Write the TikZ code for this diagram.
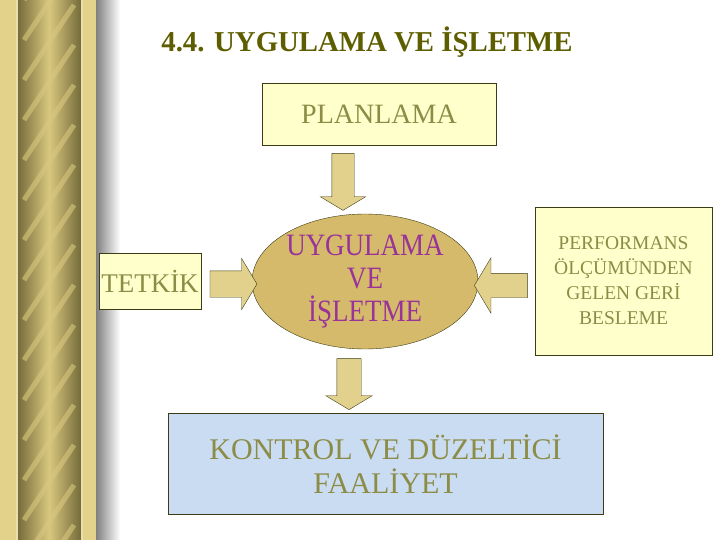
\documentclass[tikz,border=0pt]{standalone}
\usepackage{fontspec}
\usepackage{graphicx}
\setmainfont{Liberation Serif}
\usetikzlibrary{shapes.geometric}
\usetikzlibrary{shapes.arrows}
\usetikzlibrary{positioning}
\definecolor{ug-title}{HTML}{5E5E00}
\definecolor{ug-text}{HTML}{8C8C46}
\definecolor{ug-purple}{HTML}{993399}
\definecolor{ug-box}{HTML}{FFFFCC}
\definecolor{ug-line}{HTML}{3C3C14}
\definecolor{ug-oval}{HTML}{D5BA6B}
\definecolor{ug-arrow}{HTML}{E2D18C}
\definecolor{ug-blue}{HTML}{C9DCF1}
\definecolor{ug-gold}{HTML}{E2D28A}
\definecolor{ug-rod}{HTML}{756B3A}
\definecolor{ug-rodlight}{HTML}{D8C77E}
\newcommand{\uzun}[1]{\scalebox{1}[1.15]{#1}}

\begin{document}
\begin{tikzpicture}[x=1pt, y=-1pt,
    box/.style={draw=ug-line, fill=ug-box, text=ug-text, inner sep=0pt, align=center},
    blockarrow/.style={single arrow, draw=ug-line, fill=ug-arrow, inner xsep=0pt,
        single arrow tip angle=118, single arrow head indent=0pt},
    downarrow/.style={blockarrow, shape border rotate=270, inner ysep=0pt}]
        \useasboundingbox (0,0) rectangle (720,540);
        \fill[ug-gold] (0,0) rectangle (96,540);
        \shade[left color=ug-rod, right color=ug-rod, middle color=ug-rodlight] (17,0) rectangle (81,540);
        \begin{scope}
            \clip (19,0) rectangle (79,540);
            \foreach \y in {-40,0,...,560}
                \draw[ug-rodlight, line width=5pt, opacity=0.6] (24,\y+40) -- (74,\y-35);
        \end{scope}
        \draw[ug-gold!70!white, line width=1.5pt] (17,0) -- (17,540);
        \draw[ug-gold!70!white, line width=1.5pt] (82,0) -- (82,540);
        \shade[left color=black!50, right color=white] (96,0) rectangle (120,540);
        \node[text=ug-title, font=\fontsize{28.8}{34}\selectfont\bfseries] (title) at (367,42) {4.4. UYGULAMA VE İŞLETME};
        \node[box, minimum width=234, minimum height=62, font=\fontsize{28}{32}\selectfont] (plan) at (379,114) {PLANLAMA};
        \node[box, minimum width=102, minimum height=56, font=\fontsize{27}{32}\selectfont] (tetkik) at (150,281) {TETKİK};
        \node[ellipse, draw=ug-line, fill=ug-oval, text=ug-purple, inner sep=0pt, minimum width=226, minimum height=135,
            align=center, font=\fontsize{27}{33}\selectfont] (isletme) at (365,281.5) {\uzun{UYGULAMA}\\\uzun{VE}\\\uzun{İŞLETME}};
        \node[box, minimum width=177, minimum height=148, font=\fontsize{19.5}{25}\selectfont] (geri) at (623.5,281) {PERFORMANS\\ÖLÇÜMÜNDEN\\GELEN GERİ\\BESLEME};
        \node[box, fill=ug-blue, minimum width=435, minimum height=101, font=\fontsize{30}{34}\selectfont] (kontrol) at (385.5,464) {KONTROL VE DÜZELTİCİ\\FAALİYET};
        \node[downarrow, minimum height=57, inner xsep=11, single arrow head extend=11.5] (ok-plan) at (343,178.5) {};
        \node[downarrow, minimum height=51, inner xsep=12, single arrow head extend=11] (ok-kontrol) at (349,380.5) {};
        \node[blockarrow, minimum height=47, inner ysep=13, single arrow head extend=12.5] (ok-tetkik) at (229.5,284) {};
        \node[blockarrow, shape border rotate=180, minimum height=53, inner ysep=12, single arrow head extend=15.5] (ok-geri) at (504.5,285.5) {};
    \end{tikzpicture}
\end{document}
